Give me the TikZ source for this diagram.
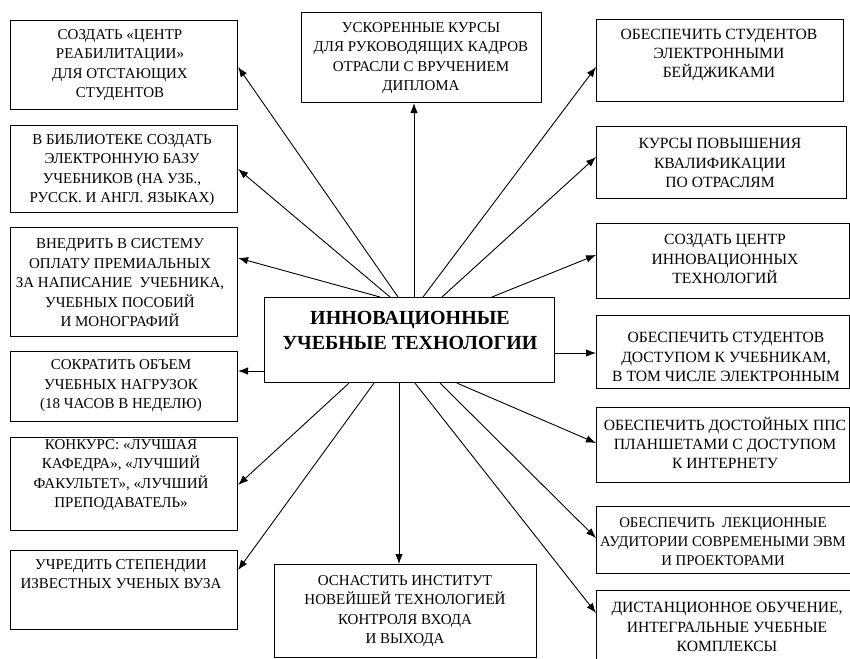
\documentclass[tikz,border=0pt]{standalone}
\usepackage{fontspec}
\setmainfont{Liberation Serif}
\usetikzlibrary{arrows.meta}
\tikzset{
  box/.style={draw, line width=1.1pt, inner sep=0pt, anchor=north west},
  txt/.style={align=center, inner sep=0pt, font=\fontsize{15}{19.5}\selectfont},
  rtxt/.style={align=center, inner sep=0pt, font=\fontsize{15.6}{19.2}\selectfont},
  hub/.style={align=center, inner sep=0pt, font=\bfseries\fontsize{20}{25}\selectfont},
  link/.style={line width=0.9pt, -{Latex[length=10pt,width=7.5pt]}},
}
\begin{document}
\begin{tikzpicture}[x=1pt,y=-1pt]
\useasboundingbox (0,0) rectangle (850,658);

% central box
\node[box, minimum width=290pt, minimum height=85pt] (c) at (264,297) {};
\node[hub] (ct) at (410,330) {ИННОВАЦИОННЫЕ\\УЧЕБНЫЕ ТЕХНОЛОГИИ};

% top and bottom boxes
\node[box, minimum width=240pt, minimum height=90pt] (t) at (301,12) {};
\node[txt] (tt) at (421,58) {УСКОРЕННЫЕ КУРСЫ\\ДЛЯ РУКОВОДЯЩИХ КАДРОВ\\ОТРАСЛИ С ВРУЧЕНИЕМ\\ДИПЛОМА};
\node[box, minimum width=262pt, minimum height=93pt] (b) at (274,564) {};
\node[txt] (bt) at (405,611) {ОСНАСТИТЬ ИНСТИТУТ\\НОВЕЙШЕЙ ТЕХНОЛОГИЕЙ\\КОНТРОЛЯ ВХОДА\\И ВЫХОДА};

% left column
\node[box, minimum width=227pt, minimum height=89pt] (l1) at (10,20) {};
\node[txt] (l1t) at (120,65) {СОЗДАТЬ «ЦЕНТР\\РЕАБИЛИТАЦИИ»\\ДЛЯ ОТСТАЮЩИХ\\СТУДЕНТОВ};
\node[box, minimum width=227pt, minimum height=87pt] (l2) at (10,125) {};
\node[txt] (l2t) at (122,170) {В БИБЛИОТЕКЕ СОЗДАТЬ\\ЭЛЕКТРОННУЮ БАЗУ\\УЧЕБНИКОВ (НА УЗБ.,\\РУССК. И АНГЛ. ЯЗЫКАХ)};
\node[box, minimum width=227pt, minimum height=109pt] (l3) at (10,227) {};
\node[txt] (l3t) at (120,283) {ВНЕДРИТЬ В СИСТЕМУ\\ОПЛАТУ ПРЕМИАЛЬНЫХ\\ЗА НАПИСАНИЕ\ \ УЧЕБНИКА,\\УЧЕБНЫХ ПОСОБИЙ\\И МОНОГРАФИЙ};
\node[box, minimum width=227pt, minimum height=70pt] (l4) at (10,351) {};
\node[txt] (l4t) at (121,386) {СОКРАТИТЬ ОБЪЕМ\\УЧЕБНЫХ НАГРУЗОК\\(18 ЧАСОВ В НЕДЕЛЮ)};
\node[box, minimum width=227pt, minimum height=93pt] (l5) at (10,437) {};
\node[txt] (l5t) at (121,475) {КОНКУРС: «ЛУЧШАЯ\\КАФЕДРА», «ЛУЧШИЙ\\ФАКУЛЬТЕТ», «ЛУЧШИЙ\\ПРЕПОДАВАТЕЛЬ»};
\node[box, minimum width=227pt, minimum height=79pt] (l6) at (10,550) {};
\node[txt] (l6t) at (121,574) {УЧРЕДИТЬ СТЕПЕНДИИ\\ИЗВЕСТНЫХ УЧЕНЫХ ВУЗА};

% right column
\node[box, minimum width=247pt, minimum height=82pt] (r1) at (596,19) {};
\node[rtxt] (r1t) at (719,55) {ОБЕСПЕЧИТЬ СТУДЕНТОВ\\ЭЛЕКТРОННЫМИ\\БЕЙДЖИКАМИ};
\node[box, minimum width=250pt, minimum height=72pt] (r2) at (596,126) {};
\node[rtxt] (r2t) at (720,163) {КУРСЫ ПОВЫШЕНИЯ\\КВАЛИФИКАЦИИ\\ПО ОТРАСЛЯМ};
\node[box, minimum width=253pt, minimum height=75pt] (r3) at (596,223) {};
\node[rtxt] (r3t) at (725,259) {СОЗДАТЬ ЦЕНТР\\ИННОВАЦИОННЫХ\\ТЕХНОЛОГИЙ};
\node[box, minimum width=253pt, minimum height=73pt] (r4) at (596,315) {};
\node[rtxt] (r4t) at (726,357) {ОБЕСПЕЧИТЬ СТУДЕНТОВ\\ДОСТУПОМ К УЧЕБНИКАМ,\\В ТОМ ЧИСЛЕ ЭЛЕКТРОННЫМ};
\node[box, minimum width=253pt, minimum height=75pt] (r5) at (596,407) {};
\node[rtxt] (r5t) at (725,443) {ОБЕСПЕЧИТЬ ДОСТОЙНЫХ ППС\\ПЛАНШЕТАМИ С ДОСТУПОМ\\К ИНТЕРНЕТУ};
\node[box, minimum width=260pt, minimum height=67pt] (r6) at (596,506) {};
\node[txt, font=\fontsize{14.8}{19}\selectfont] (r6t) at (723,542) {ОБЕСПЕЧИТЬ\ \ ЛЕКЦИОННЫЕ\\АУДИТОРИИ СОВРЕМЕНЫМИ ЭВМ\\И ПРОЕКТОРАМИ};
\node[box, minimum width=260pt, minimum height=80pt] (r7) at (596,590) {};
\node[rtxt] (r7t) at (727,627) {ДИСТАНЦИОННОЕ ОБУЧЕНИЕ,\\ИНТЕГРАЛЬНЫЕ УЧЕБНЫЕ\\КОМПЛЕКСЫ};

% connectors from the hub to every box
\draw[link] ([xshift=134pt]c.north west) -- ([yshift=-47pt]l1.north east);
\draw[link] ([xshift=126pt]c.north west) -- ([yshift=-44pt]l2.north east);
\draw[link] ([xshift=116pt]c.north west) -- ([yshift=-31pt]l3.north east);
\draw[link] ([yshift=-74pt]c.north west) -- ([yshift=-20pt]l4.north east);
\draw[link] ([xshift=85pt]c.south west) -- ([yshift=-48pt]l5.north east);
\draw[link] ([xshift=110pt]c.south west) -- ([yshift=-20pt]l6.north east);
\draw[link] ([xshift=150pt]c.north west) -- ([xshift=113pt]t.south west);
\draw[link] ([xshift=135pt]c.south west) -- ([xshift=125pt]b.north west);
\draw[link] ([xshift=159pt]c.north west) -- ([yshift=-48pt]r1.north west);
\draw[link] ([xshift=178pt]c.north west) -- ([yshift=-31pt]r2.north west);
\draw[link] ([xshift=228pt]c.north west) -- ([yshift=-32pt]r3.north west);
\draw[link] ([yshift=-56pt]c.north east) -- ([yshift=-38pt]r4.north west);
\draw[link] ([xshift=193pt]c.south west) -- ([yshift=-36pt]r5.north west);
\draw[link] ([xshift=176pt]c.south west) -- ([yshift=-32pt]r6.north west);
\draw[link] ([xshift=151pt]c.south west) -- ([yshift=-23pt]r7.north west);
\end{tikzpicture}
\end{document}
